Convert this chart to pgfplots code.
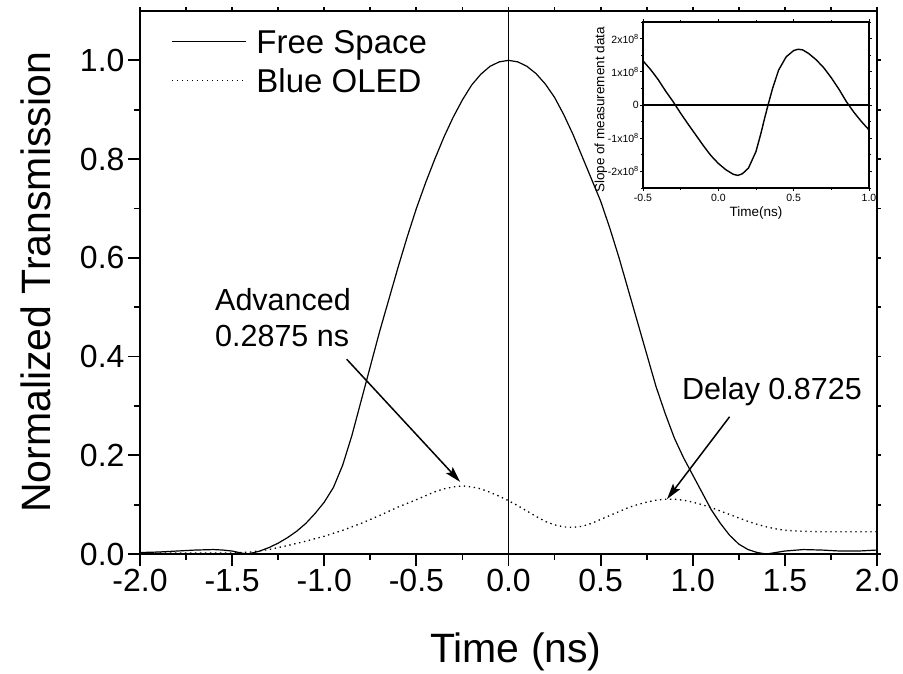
\documentclass[border=0pt]{standalone}
\usepackage{pgfplots}
\pgfplotsset{compat=1.18}
\usepackage{pgfplotstable}
\usepackage{fontspec}
\setmainfont{Liberation Sans}
\usetikzlibrary{arrows.meta}

\pgfplotstableread{
x y
-2.00 0.003
-1.90 0.004
-1.80 0.006
-1.70 0.008
-1.60 0.009
-1.55 0.008
-1.50 0.006
-1.45 0.002
-1.42 0.000
-1.38 0.003
-1.35 0.006
-1.30 0.013
-1.25 0.022
-1.20 0.033
-1.15 0.046
-1.10 0.062
-1.05 0.082
-1.00 0.105
-0.95 0.135
-0.90 0.180
-0.85 0.240
-0.80 0.310
-0.75 0.380
-0.70 0.450
-0.65 0.515
-0.60 0.580
-0.55 0.642
-0.50 0.700
-0.45 0.752
-0.40 0.800
-0.35 0.845
-0.30 0.885
-0.25 0.920
-0.20 0.950
-0.15 0.972
-0.10 0.988
-0.05 0.997
0.00 1.000
0.05 0.997
0.10 0.988
0.15 0.973
0.20 0.952
0.25 0.925
0.30 0.890
0.35 0.850
0.40 0.805
0.45 0.760
0.50 0.715
0.55 0.660
0.60 0.600
0.65 0.535
0.70 0.470
0.75 0.405
0.80 0.340
0.85 0.285
0.90 0.235
0.95 0.195
1.00 0.160
1.05 0.125
1.10 0.090
1.15 0.062
1.20 0.038
1.25 0.020
1.30 0.009
1.35 0.003
1.40 0.000
1.45 0.003
1.50 0.006
1.60 0.009
1.70 0.008
1.80 0.006
1.90 0.006
2.00 0.008
}\freespace

\pgfplotstableread{
x y
-2.00 0.002
-1.90 0.002
-1.80 0.002
-1.70 0.002
-1.60 0.002
-1.50 0.002
-1.40 0.004
-1.30 0.009
-1.20 0.017
-1.10 0.026
-1.00 0.036
-0.90 0.048
-0.80 0.062
-0.70 0.078
-0.60 0.095
-0.50 0.110
-0.45 0.118
-0.40 0.126
-0.35 0.132
-0.30 0.136
-0.25 0.138
-0.20 0.136
-0.15 0.132
-0.10 0.125
-0.05 0.117
0.00 0.108
0.05 0.098
0.10 0.087
0.15 0.076
0.20 0.066
0.25 0.059
0.30 0.055
0.35 0.054
0.40 0.056
0.45 0.062
0.50 0.070
0.55 0.078
0.60 0.086
0.65 0.094
0.70 0.100
0.75 0.105
0.80 0.109
0.85 0.111
0.90 0.111
0.95 0.109
1.00 0.105
1.05 0.100
1.10 0.094
1.15 0.087
1.20 0.080
1.25 0.073
1.30 0.066
1.35 0.060
1.40 0.055
1.45 0.051
1.50 0.048
1.60 0.046
1.70 0.045
1.80 0.045
1.90 0.045
2.00 0.045
}\blueoled

\pgfplotstableread{
x y
-0.50 1.33
-0.45 1.07
-0.40 0.77
-0.35 0.42
-0.30 0.10
-0.25 -0.25
-0.20 -0.58
-0.15 -0.90
-0.10 -1.22
-0.05 -1.52
0.00 -1.76
0.05 -1.95
0.10 -2.09
0.13 -2.12
0.16 -2.07
0.20 -1.90
0.25 -1.40
0.28 -0.90
0.31 -0.35
0.33 0.00
0.36 0.50
0.40 1.05
0.45 1.45
0.50 1.64
0.53 1.68
0.56 1.66
0.60 1.55
0.65 1.36
0.70 1.12
0.75 0.82
0.80 0.48
0.85 0.10
0.90 -0.22
0.95 -0.50
1.00 -0.75
}\slope

\begin{document}
\begin{tikzpicture}
% ---------- inset ----------
\begin{axis}[
  at={(503pt,366pt)}, anchor=south west,
  scale only axis, width=226pt, height=166pt,
  xmin=-0.5, xmax=1.0, ymin=-2.5, ymax=2.5,
  xtick={-0.5,0,0.5,1}, xticklabels={-0.5,0.0,0.5,1.0},
  minor xtick={-0.25,0.25,0.75},
  ytick={-2,-1,0,1,2},
  yticklabels={-2x10\textsuperscript{8},-1x10\textsuperscript{8},0,1x10\textsuperscript{8},2x10\textsuperscript{8}},
  minor ytick={-2.5,-1.5,-0.5,0.5,1.5,2.5},
  tick align=outside, major tick length=3pt, minor tick length=2pt,
  axis line style={line width=1.2pt},
  every tick/.style={black, line width=0.8pt},
  tick label style={font=\fontsize{10.5}{12}\selectfont},
  xticklabel style={inner sep=2.5pt},
  yticklabel style={inner sep=1pt},
  xlabel={Time(ns)}, ylabel={Slope of measurement data},
  label style={font=\fontsize{13.5}{15}\selectfont},
  xlabel style={at={(axis description cs:0.5,-0.15)}, anchor=center},
  ylabel style={at={(axis description cs:-0.186,0.47)}, anchor=center},
]
\addplot[black, line width=1.4pt] table {\slope};
\addplot[black, line width=1.4pt] coordinates {(-0.5,0) (1.0,0)};
\end{axis}
% ---------- main ----------
\begin{axis}[
  at={(0pt,0pt)}, anchor=south west,
  scale only axis, width=737pt, height=543pt,
  xmin=-2, xmax=2, ymin=0, ymax=1.1,
  xtick={-2,-1.5,-1,-0.5,0,0.5,1,1.5,2},
  xticklabels={-2.0,-1.5,-1.0,-0.5,0.0,0.5,1.0,1.5,2.0},
  minor xtick={-1.75,-1.25,-0.75,-0.25,0.25,0.75,1.25,1.75},
  ytick={0,0.2,0.4,0.6,0.8,1.0},
  yticklabels={0.0,0.2,0.4,0.6,0.8,1.0},
  minor ytick={0.1,0.3,0.5,0.7,0.9},
  xtick pos=bottom, ytick pos=left,
  tick align=outside, major tick length=12pt, minor tick length=6pt,
  every tick/.style={black, line width=1.8pt},
  axis line style={line width=2.5pt},
  tick label style={font=\fontsize{32}{38}\selectfont},
  xlabel={Time (ns)}, ylabel={Normalized Transmission},
  label style={font=\fontsize{41}{48}\selectfont},
  xlabel style={at={(axis description cs:0.51,-0.1805)}, anchor=center},
  ylabel style={at={(axis description cs:-0.1411,0.5)}, anchor=center},
  legend image code/.code={\draw[#1] (0pt,0pt) -- (74pt,0pt);},
  legend cell align=left,
  legend style={at={(axis description cs:0.042,0.9724)}, anchor=north west,
    draw=none, fill=none, inner sep=0pt, row sep=9pt, column sep=10pt,
    font=\fontsize{33}{38}\selectfont,
    nodes={inner sep=0pt, text height=27pt, text depth=3pt}},
]
\addplot[black, line width=1.2pt] table {\freespace};
\addlegendentry{Free Space}
\addplot[black, line width=1.3pt, dash pattern=on 1.4pt off 3.6pt] table {\blueoled};
\addlegendentry{Blue OLED}
\addplot[black, line width=1.4pt, forget plot] coordinates {(0,0) (0,1.1)};
\draw[line width=1.5pt, -{Stealth[length=16pt, width=9pt, inset=3pt]}]
  (axis cs:-0.878,0.3945) -- (axis cs:-0.262,0.146);
\draw[line width=1.5pt, -{Stealth[length=16pt, width=9pt, inset=3pt]}]
  (axis cs:1.2,0.278) -- (axis cs:0.86,0.111);
\node[anchor=base west, inner sep=0pt, font=\fontsize{30.5}{36}\selectfont]
  at (axis cs:-1.593,0.4923) {Advanced};
\node[anchor=base west, inner sep=0pt, font=\fontsize{30.5}{36}\selectfont]
  at (axis cs:-1.593,0.420) {0.2875 ns};
\node[anchor=base west, inner sep=0pt, font=\fontsize{30.5}{36}\selectfont]
  at (axis cs:0.941,0.3136) {Delay 0.8725};
\end{axis}
% ---------- mirrored short ticks top/right ----------
\begin{axis}[
  at={(0pt,0pt)}, anchor=south west,
  scale only axis, width=737pt, height=543pt,
  xmin=-2, xmax=2, ymin=0, ymax=1.1,
  xtick={-2,-1.5,-1,-0.5,0,0.5,1,1.5,2},
  minor xtick={-1.75,-1.25,-0.75,-0.25,0.25,0.75,1.25,1.75},
  ytick={0,0.2,0.4,0.6,0.8,1.0},
  minor ytick={0.1,0.3,0.5,0.7,0.9},
  xticklabels={}, yticklabels={},
  xtick pos=top, ytick pos=right,
  tick align=outside, major tick length=3.5pt, minor tick length=3.5pt,
  every tick/.style={black, line width=1.8pt},
  axis line style={line width=2.5pt},
]
\end{axis}
\pgfresetboundingbox
\useasboundingbox (-140pt,-119pt) rectangle (763pt,554pt);
\end{tikzpicture}
\end{document}
